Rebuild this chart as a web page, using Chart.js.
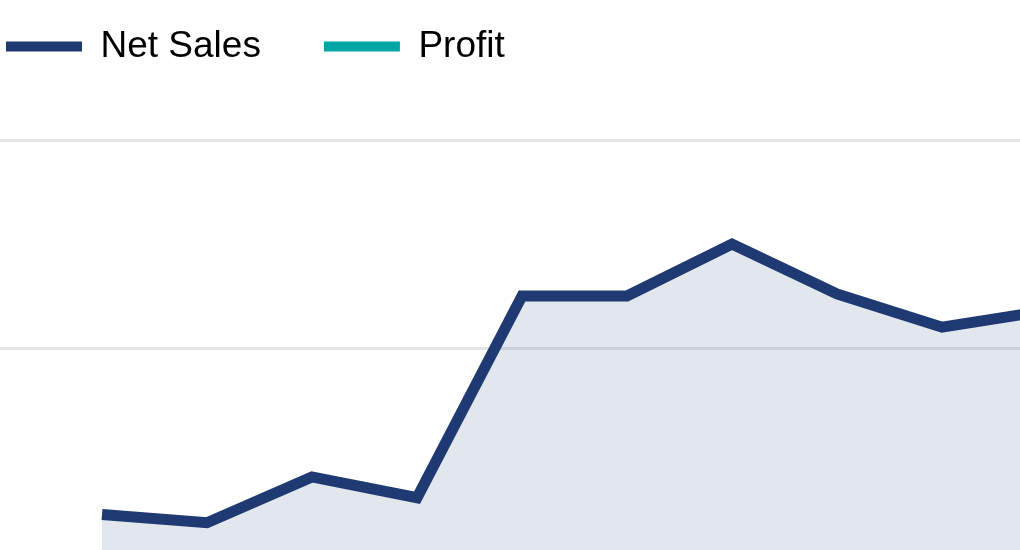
<!DOCTYPE html>
<html>
<head>
<meta charset="utf-8">
<script src="https://cdn.jsdelivr.net/npm/chart.js@4/dist/chart.umd.min.js"></script>
<style>
  html, body { margin: 0; padding: 0; background: #fff; overflow: hidden; width: 1020px; height: 550px; }
  #salesChart { position: absolute; left: -57px; top: -35px; }
</style>
</head>
<body>
<canvas id="salesChart" width="1144" height="849"></canvas>
<script>
// monthly figures (in millions)
const months = ["Jan", "Feb", "Mar", "Apr", "May", "Jun", "Jul", "Aug", "Sep", "Oct"];
const netSales = [12.0, 11.6, 13.8, 12.8, 22.5, 22.5, 25.0, 22.6, 21.0, 21.8];
const profit = [1.8, 1.6, 2.4, 2.1, 4.6, 4.5, 5.2, 4.4, 3.9, 4.1];
const yTicks = [0, 10, 20, 30];

const navy = '#1f3a73';
const teal = '#00a6a4';
const fontFamily = "'Liberation Sans', Arial, sans-serif";

// legend needs extra room below it
const legendSpace = {
    id: 'legendSpace',
    beforeInit(chart) {
        const fit = chart.legend.fit;
        chart.legend.fit = function () {
            fit.bind(chart.legend)();
            this.height = 175;
        };
    }
};

const ctx = document.getElementById('salesChart').getContext('2d');

new Chart(ctx, {
    type: 'line',
    data: {
        labels: months,
        datasets: [{
            label: 'Net Sales',
            data: netSales,
            borderColor: navy,
            backgroundColor: 'rgba(31, 58, 115, 0.13)',
            borderWidth: 11,
            fill: 'origin',
            pointRadius: 0,
            tension: 0
        }, {
            label: 'Profit',
            data: profit,
            borderColor: teal,
            backgroundColor: teal,
            borderWidth: 11,
            fill: false,
            pointRadius: 0,
            tension: 0
        }]
    },
    options: {
        responsive: false,
        animation: false,
        layout: { padding: { right: 40 } },
        plugins: {
            tooltip: { enabled: false },
            legend: {
                position: 'top',
                align: 'start',
                labels: {
                    boxWidth: 76,
                    boxHeight: 10,
                    padding: 63,
                    color: '#000',
                    font: { family: fontFamily, size: 37 },
                    generateLabels(chart) {
                        const items = Chart.defaults.plugins.legend.labels.generateLabels(chart);
                        items.forEach(it => { it.fillStyle = it.strokeStyle; it.lineWidth = 0; });
                        return items;
                    }
                }
            }
        },
        scales: {
            x: {
                grid: { display: false },
                border: { display: false },
                ticks: { font: { family: fontFamily, size: 26 }, color: '#555' },
                afterFit(scale) { scale.height = 50; }
            },
            y: {
                min: yTicks[0],
                max: yTicks[yTicks.length - 1],
                afterBuildTicks(scale) { scale.ticks = yTicks.map(v => ({ value: v })); },
                ticks: { display: false },
                border: { display: false },
                grid: { color: '#e5e5e5', lineWidth: 3, tickLength: 159 },
                afterFit(scale) { scale.width = 159; }
            }
        }
    },
    plugins: [legendSpace]
});
</script>
</body>
</html>
